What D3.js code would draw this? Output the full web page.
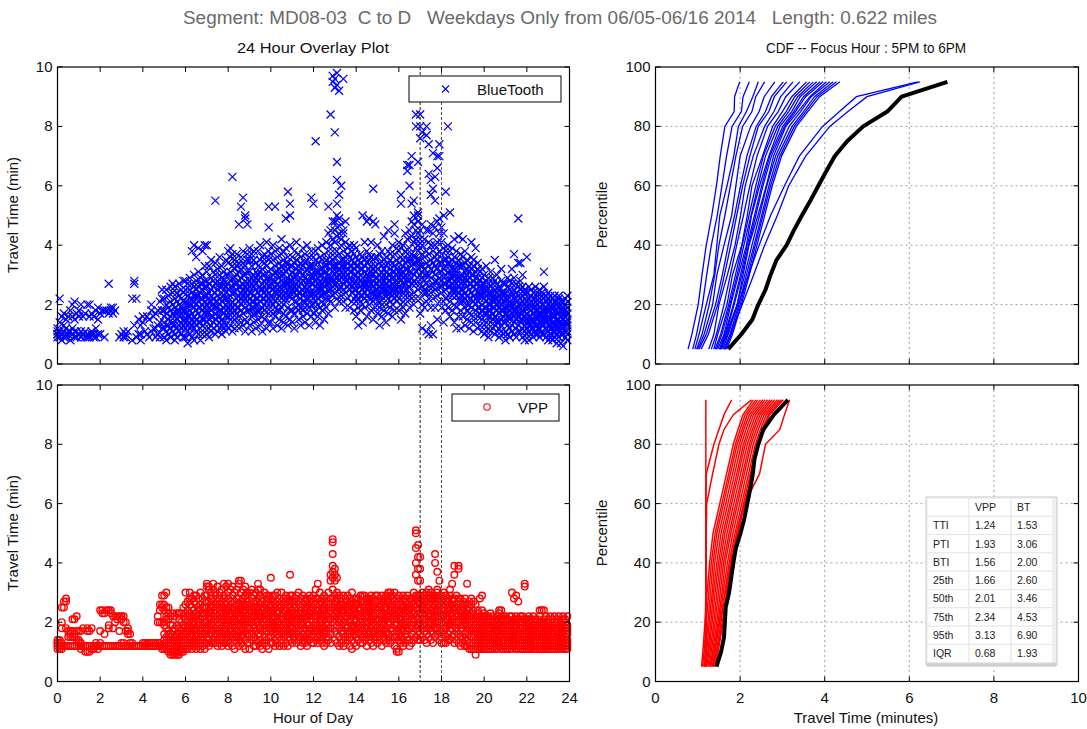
<!DOCTYPE html>
<html><head><meta charset="utf-8">
<script src="https://cdn.jsdelivr.net/npm/d3@7/dist/d3.min.js"></script>
<style>body{margin:0;background:#fff}svg{display:block;font-family:"Liberation Sans",Arial,sans-serif}</style>
</head><body><svg id="c" width="1087" height="729"></svg>
<script>
// ---------------- DATA ----------------
const mainTitle = "Segment: MD08-03  C to D   Weekdays Only from 06/05-06/16 2014   Length: 0.622 miles";
const leftTitle = "24 Hour Overlay Plot";
const rightTitle = "CDF -- Focus Hour : 5PM to 6PM";
const hourTicks = [0,2,4,6,8,10,12,14,16,18,20,22,24];
const travelTicks = [0,2,4,6,8,10];
const cdfTimeTicks = [0,2,4,6,8,10];
const pctTicks = [0,20,40,60,80,100];
const focusHours = [17,18];

// scatter points: one string per hour of day; "|" separates the ten 6-minute slices of the hour;
// each number is a travel time in tenths of a minute
const btPoints = [
"09 10 11 12 10|22 14 09 11|16 10 08|11 09 13 17|10 12 09 15|11 10 16|08 11 18|20 12 10 16|11 09 15 21|09 11 17",
"10 18 16|09 11 20|16 10|09 11 17|20 10 09|16 09 20|10 11 17|10 09 16|09 12 18|10 15 19",
"17 10|18|09 18|18|27 17|18 19|17 19|18||09",
"10|09 11|10 09|11||08 22|13 27 28|09 22|10 15|08 10 13",
"14 16|11|10 16|09 15|11 18 20|12 16|09 12 17|10 13 18|09 14 21|12 18 22 25",
"09 14 18 12 22 16|11 17 08 25 13 20|15 10 19 23 13|12 18 26 09 16 21|14 11 20 17 24 13 27|16 10 22 13 19 08 26|12 18 15 21 09 24 17|20 13 16 11 23 18 27|14 19 10 25 17 22 12|18 13 21 15 24 09 19 28",
"15 09 21 18 12 25 17 28 14|19 11 23 16 07 27 13 20|14 22 18 10 25 16 29 12 20|17 24 13 38 20 09 27 15 22|12 19 26 16 21 08 30 14 23 40|18 23 11 15 28 20 13 25 36|21 14 26 17 10 23 19 31 39|16 22 12 27 19 08 24 14 29|20 25 13 18 30 15 22 10 27 38|17 23 28 12 19 26 15 21 33 40",
"20 14 26 17 31 10 23 18 40 28|15 22 27 12 19 33 24 09 21|18 25 13 29 21 16 35 11 23|22 16 28 19 12 26 31 14 20|17 24 10 30 21 15 27 55 19 34|23 13 19 28 16 25 11 32 21|18 26 14 22 30 12 20 27 16 36|21 15 29 24 10 18 33 26 13|19 27 12 23 17 31 22 14 28|24 16 20 30 13 26 18 35 22 11",
"22 16 30 25 12 34 19 27 21 38|18 26 13 31 23 20 36 15 28 39|24 63 17 29 21 11 33 26 19 37|20 27 15 32 24 18 35 12 29|25 19 30 14 22 37 27 17 33|21 28 16 34 23 12 31 26 19 47|26 18 32 22 14 29 36 24 20 53|23 30 17 27 13 34 21 38 25 56|19 28 24 15 33 22 30 11 26 49 50|27 21 35 18 25 31 14 23 37 47",
"24 18 31 22 13 28 35 20 26 39|21 27 16 33 24 11 29 37 19|26 19 30 23 14 35 21 28 17 38|22 29 17 34 25 12 31 20 27|28 20 33 15 24 38 22 30 18|23 31 18 26 13 35 21 29 25 40|27 16 32 22 36 19 25 11 30|20 28 24 34 15 30 22 37 18|25 33 19 29 12 23 36 27 21 41|29 22 35 17 26 31 14 24 38 46 53",
"26 19 32 23 14 29 37 21 27|22 30 17 35 25 12 28 40 20|28 21 33 16 24 38 53 26 19 31|24 31 18 27 36 13 22 30 25|29 20 34 23 15 39 26 32 18|25 33 19 28 37 22 12 30 24 42|30 23 17 35 26 20 32 14 27 38|21 28 34 24 16 31 39 22 27 49|27 19 32 25 36 13 29 23 34 58|23 30 26 18 33 28 40 15 24 50 54",
"25 31 18 28 22 36 14 27 33|29 21 34 24 17 30 38 26 12|23 32 27 19 35 25 41 21 30|28 20 33 26 15 31 37 24 18|24 31 22 36 29 13 27 34 19|30 25 18 33 23 39 28 21 16|26 34 21 29 14 31 24 37 19|22 28 32 25 17 35 27 20 40|31 24 19 28 36 22 33 13 26|27 33 20 30 24 38 16 29 56 23",
"27 20 33 24 36 17 29 22 54 31|23 31 26 18 35 28 21 75 38 14|29 22 34 25 16 31 39 27 20|25 32 19 28 36 23 30 13 26|30 23 27 35 18 32 25 40 21|26 33 20 29 37 24 31 15 28|31 24 28 19 35 27 33 22 41|27 34 22 30 25 38 17 29 53 44|32 25 29 36 21 40 28 34 45 84|28 35 23 31 42 26 38 48 97 95 33",
"30 24 36 27 41 19 33 45 48 78 96 93 28|26 33 29 38 22 43 31 46 50 68 62 54 98 94|32 25 37 28 44 21 34 49 57 92 30|29 35 23 40 31 26 42 47 60 33|33 27 38 21 30 44 35 45 96 25|28 36 31 24 41 33 19 48 29|34 26 30 37 22 39 28 32|29 33 25 36 19 31 40 27|31 24 35 28 21 38 26 33|27 34 22 30 37 25 32 18 40",
"28 21 33 25 36 16 30 23 39|24 31 19 27 35 22 29 13 33|30 23 26 34 18 37 28 21 32|25 32 20 29 36 23 50 27 14|31 22 27 35 19 33 26 41 24|27 34 23 30 16 38 25 29 48|22 29 35 26 32 20 37 28 49|30 24 33 18 27 36 22 31 41|26 32 21 35 28 15 30 59 24 48|33 25 29 19 36 27 23 31 47",
"27 21 32 25 36 17 29 23 40|23 30 19 34 26 13 28 37 21|29 24 33 20 27 38 31 16 25|25 32 22 28 35 18 30 26 43|31 23 27 36 20 33 14 29 24|26 34 22 30 17 38 28 24 45|30 24 28 35 21 32 19 37 26|23 31 27 20 34 29 16 40 25|29 26 33 22 37 18 31 25 44 47|25 32 21 28 35 23 30 39 27",
"29 22 34 26 38 18 31 24 41|25 32 20 36 28 15 30 57 54 39|31 24 35 21 29 40 27 33 19|27 34 23 30 38 17 32 25 44|32 25 29 37 21 35 28 42 67 65|28 35 23 31 19 39 26 45 60 67|33 27 31 22 37 29 43 48 70 54|30 24 36 28 34 20 41 47 55 50|34 27 31 22 39 45 84 80 42 36|29 35 25 32 40 44 48 51 68 50 38",
"30 22 35 27 39 17 42 45 84 80 76 33|26 33 20 37 29 12 40 47 78 31|32 24 36 19 28 42 30 25|27 34 11 30 38 21 45 77 80 24|33 26 37 22 30 10 45 74 64 41|29 35 24 40 19 32 57 62 47 13|34 27 31 22 38 44 71 59 10 26|30 36 25 33 46 19 63 55 40 28|35 28 41 23 32 48 70 66 15 37|31 38 26 44 21 34 74 70 49 29",
"31 24 37 28 41 19 34 46 26|27 35 21 32 39 14 29 44 50|33 25 30 38 22 58 27 35 18|28 36 23 31 80 19 34 26 40|34 26 30 21 38 51 28 33 16|29 35 23 32 27 39 18 30 25|25 32 28 20 36 14 30 24 42|30 23 27 34 19 31 25 12 38|26 33 21 29 16 35 24 28 43|23 30 27 18 33 25 12 29 37 21",
"28 21 33 25 42 16 30 23 36|24 31 19 27 13 34 22 29 38|26 20 32 15 28 23 35 18 30|22 29 25 17 33 20 27 12 31|27 19 30 24 41 14 32 22 36|23 28 16 33 21 26 11 30 35|25 18 31 22 39 27 14 20 29|21 27 24 16 32 19 29 12 34|24 19 28 13 26 22 31 17 23|20 26 15 29 23 18 32 11 27",
"22 17 27 13 24 19 30 10 25|19 25 14 21 28 11 23 17 33|24 16 20 12 27 22 18 29 09|18 23 14 26 20 31 11 24 16|21 15 27 19 12 24 17 29 22|16 22 13 25 19 28 10 21 35|20 14 24 18 11 27 22 15 30|17 23 12 26 19 14 21 09 25|22 15 20 28 13 18 24 11 32|18 24 14 21 27 16 10 23 19",
"19 14 24 11 21 17 27 08 22|16 22 13 19 26 10 23 17 29|21 15 18 25 12 20 28 09 16|17 23 13 20 27 11 24 19 32|20 14 22 16 37 10 25 18 29|15 21 12 24 18 27 09 22 17|19 13 23 16 49 11 26 20 34|14 20 25 17 11 22 34 15 28|18 12 21 15 26 09 23 17 30|16 22 11 19 25 13 20 08 24",
"17 12 21 15 36 10 19 24 14|14 19 11 22 16 08 20 26 13|18 13 23 10 16 21 15 25 12|15 20 12 17 24 09 19 14 22|19 11 16 22 13 26 18 10 21|13 18 24 15 10 20 16 23 12|17 12 21 14 19 09 25 16 22|14 20 11 17 23 13 18 10 24|18 13 22 15 31 10 20 16 26|12 17 21 14 19 09 23 15 18",
"16 11 20 13 18 08 22 15 24|13 18 10 21 15 09 19 23 12|17 12 22 14 19 08 16 20 11|14 19 11 16 23 09 18 13 21|18 10 15 21 13 17 07 20 12|12 17 22 14 09 19 15 11 23|16 10 20 13 18 07 14 21 11|13 18 06 15 21 10 17 12 19|17 11 14 20 09 16 22 13 18|11 15 19 08 13 21 10 17 14 23"
];

const vppPoints = [
"12 11 13 14 13|12 11 13 14 12|12 11 13 20 18 25|12 25 27|12 28 27 18|12 15 17|12 15 17 16|12 15 17 21|12 15 16 21|12 14 17 22",
"12 13 17 14|12 13 17 11|12 18|12 10|12 10 17 18|12 10 17|12 11 18|12 11|12 13|12 11",
"12 17 24 13|12 23 24|12 16 23|12 24|12 18 24 19|12 24 23|12 18 22|12 22 20|12 22 21|12 17 22",
"12 22 21 13|12 20 22 13|12 20 17|12 18 17 16|12 16 13|12 13|12 12|12|12|12",
"12 13|12 13|12 13|12 13|12 13|12 13|12 13|12 13 22 20|12 20 24 26 13|12 20 26 25 29 11",
"12 29 26 24 20 16 14 19 11|13 30 25 22 18 15 11 21|12 14 17 21 25 10 23 16|10 13 16 19 22 09 12 15|10 11 14 17 23 13 19 09|10 09 12 15 18 22 11 14|09 10 13 16 19 23 12 15|10 12 14 18 21 09 16 23|10 12 15 17 20 23 13 11|11 13 16 19 22 25 10 14 18",
"14 19 12 23 17 26 11 21 16 30|18 13 22 15 27 20 11 24 17|21 15 26 12 19 30 17 23 14 28|16 22 13 25 18 28 11 20 15|20 14 24 17 27 12 22 19 29|15 21 18 26 13 23 16 29 11|22 16 19 28 14 25 12 20 24|17 24 13 21 30 15 26 19 11|19 14 25 18 22 12 28 16 23|23 16 20 27 13 18 25 11 21 29",
"20 15 25 18 29 13 23 32 17 33 27|16 22 27 14 19 31 24 12 21 32|23 18 28 13 21 26 16 30 19 25|19 25 14 22 31 17 27 20 13 33|24 16 21 29 13 26 18 23 15 30|17 22 28 14 25 20 32 16 27 12|21 26 15 19 30 23 13 28 17 24|25 18 22 14 27 20 31 16 23 12|16 23 29 19 13 25 21 17 28 33|22 27 15 20 32 17 24 13 26 19",
"19 24 14 28 21 16 30 12 25 33|23 17 27 13 20 31 18 25 15 22|15 22 26 19 29 12 24 17 32 21|25 18 21 30 14 23 27 16 20 11|20 26 13 23 17 31 19 28 15 24|24 16 28 21 33 14 19 26 34 12 22|17 23 19 30 25 13 27 21 34 15|22 28 15 20 26 12 31 18 24 16|26 19 24 14 29 21 17 32 11 23|18 25 21 30 13 27 16 22 29 20",
"21 16 26 13 23 30 18 25 11 20|17 24 20 28 14 22 31 16 26|25 19 22 15 29 12 24 18 27|20 27 14 23 17 30 21 12 25|16 22 28 19 33 13 25 20 31 24|23 18 26 14 21 29 16 31 12 22|19 25 13 22 28 17 24 11 27|26 15 21 18 30 23 13 20 25|14 22 27 19 24 12 29 17 21 26|24 18 23 15 29 20 26 11 21 28",
"35 20 15 25 18 28 13 23 17 26|22 16 27 19 13 24 29 18 21|17 25 20 14 29 22 12 26 19|24 18 13 21 27 16 30 23 20|19 26 15 23 12 28 20 17 25|14 22 27 18 25 13 30 21 16|26 19 23 15 21 28 17 12 24|20 27 16 24 13 22 18 29 25|15 23 19 28 21 12 26 17 22|36 25 18 22 14 27 20 16 23 29",
"18 24 13 21 27 16 23 19 29|23 17 26 14 20 28 22 15 25|16 25 20 29 13 22 18 27 21|27 19 14 23 17 26 21 30 15|21 15 28 18 24 12 25 19 23|14 22 19 26 16 29 23 20 13|25 18 23 13 21 27 15 24 28|19 26 16 22 28 14 20 12 25|23 14 27 19 25 17 22 29 16|17 24 21 28 15 23 18 26 13",
"22 16 27 19 25 13 23 18 29|17 24 20 31 14 26 22 19 28|25 19 33 15 22 28 17 24 13|20 27 14 23 18 30 21 26 16|15 22 26 19 28 13 24 17 21|24 18 29 21 16 25 12 27 23|19 26 13 22 28 17 24 20 15|27 21 15 25 19 30 14 23 18|18 24 28 34 21 36 16 26 13|25 31 35 37 39 43 47 48 22 28 20",
"34 36 38 21 27 17 25 14 29 23|35 19 24 28 13 22 26 16 30|26 20 15 23 29 18 12 25 21|21 28 17 24 13 27 19 22 26|17 23 26 14 20 29 16 24 12|28 18 22 15 25 19 27 13 21|14 24 19 27 16 22 29 18 25|23 17 28 20 12 26 15 21 24|19 26 14 22 30 17 24 11 27|25 21 16 28 19 23 13 26 18",
"20 15 26 18 23 12 28 21 17|16 24 19 28 14 22 26 18 25|25 18 22 13 27 20 16 24 29|19 27 15 23 17 29 21 13 26|23 14 29 20 25 16 22 18 27|15 22 18 26 12 24 20 28 19|27 17 24 20 14 28 16 22 25|18 25 13 21 27 19 23 15 29|22 16 28 17 25 12 26 20 24|17 23 19 27 14 21 29 16 25",
"21 15 27 18 24 13 29 20 16|16 23 19 28 14 25 21 17 26|24 18 26 12 22 29 16 20 27|19 27 14 23 17 25 21 28 15|25 16 21 29 18 24 13 27 22|14 22 27 19 30 16 23 20 28|26 20 15 24 18 29 22 13 30|18 25 21 28 14 23 17 29 26|22 15 27 19 25 12 30 21 24|10 17 24 20 28 15 22 11 26 19",
"10 18 24 14 21 27 16 23 29|22 15 26 19 28 13 24 17 21|17 25 20 29 14 23 18 27 12|24 19 13 22 27 16 28 20 25|19 26 15 23 17 29 21 14 24|25 14 20 28 18 24 12 27 22|16 23 27 19 25 13 21 28 18|21 28 17 24 14 30 20 26 23|51 50 45 40 36 18 25 29 22 15 28|46 42 38 34 24 19 27 14 21 29 17",
"42 38 34 20 26 16 29 23 14 27 19|24 18 28 21 15 26 30 19 23|19 25 14 22 29 17 27 21 24|27 21 16 24 30 18 25 13 28|22 29 18 26 15 23 28 20 31|17 24 28 20 27 14 22 30 19|26 19 23 29 16 25 21 28 13|43 40 20 27 15 24 29 18 22 26|37 24 18 28 22 30 16 26 20 31|34 29 21 25 17 27 23 19 28 14",
"13 20 26 17 24 29 22 15 27|13 25 19 28 22 16 24 30 18|13 18 23 27 20 15 26 21 29|24 28 19 16 25 21 27 14 22|20 26 23 17 29 14 24 19 31|33 25 18 22 28 15 26 20 23|36 39 21 27 16 24 19 28 13 25|23 18 26 14 22 29 17 25 20|39 38 27 20 24 16 28 13 22|18 24 21 28 15 26 12 23 19",
"24 19 27 15 22 13 25 18 21|20 26 16 23 12 28 19 14 22|33 17 24 21 14 26 19 12 23|25 18 22 13 27 16 20 11 24|28 15 21 26 12 19 23 17 11|27 22 16 13 20 24 11 18 15|09 26 14 19 12 22 17 11 21|20 16 24 13 18 11 21 15 23|28 17 22 14 19 12 16 20 11|29 13 20 15 24 18 11 22 16",
"19 14 22 12 17 21 11 16 23|15 20 13 18 11 22 16 19 14|21 12 17 14 20 11 19 15 22|13 18 21 16 12 19 14 23 11|18 14 20 11 16 22 13 19 15|12 17 15 21 13 19 11 18 14|20 14 18 11 16 22 13 17 21|24 15 21 13 19 12 17 23 14|24 18 12 20 15 11 22 16 19|14 19 13 21 16 11 18 22 12",
"17 12 21 14 19 11 16 22 13|13 19 15 21 11 17 14 20 16|20 14 18 12 16 22 11 19 15|30 16 12 20 14 19 11 17 22|28 13 18 15 21 12 17 14 20|29 19 13 16 22 11 18 14 21|27 15 21 12 17 14 20 11 16|12 18 14 20 16 22 11 19 13|16 21 13 18 11 15 20 14 22|33 32 14 20 12 17 15 21 11 18",
"14 19 12 17 21 11 16 20 13|18 13 21 15 11 19 14 17 22|12 17 14 20 16 11 18 13 21|19 15 12 18 22 14 11 17 16|15 20 13 17 11 19 14 21 12|21 12 16 19 14 11 18 15 20|24 13 18 11 20 15 12 17 22|24 16 20 14 12 19 11 18 15|24 19 12 17 21 14 16 11 20|13 18 15 20 11 17 22 14 12",
"16 12 20 14 18 11 21 13 17|12 17 14 19 11 22 15 18 13|19 13 16 11 21 14 18 12 15|14 20 12 17 15 11 19 22 13|17 11 15 21 13 18 12 16 20|12 18 14 11 20 16 13 22 15|20 13 17 12 15 19 11 18 14|13 19 11 16 22 14 17 12 21|18 14 21 12 17 11 15 20 13|12 16 19 14 11 18 22 13 17"
];

// CDF curves (percentile -> travel time, minutes), one per weekday in the focus hour
const dayPct = [5,10,20,30,40,50,60,70,80,85,90,95];
const btDayCdfs = [
[0.77,0.86,1.01,1.10,1.20,1.33,1.44,1.53,1.64,1.86,1.87,1.99],
[0.88,0.97,1.11,1.21,1.32,1.46,1.57,1.68,1.81,2.03,2.07,2.22],
[0.93,1.03,1.20,1.38,1.45,1.52,1.69,1.85,1.96,2.15,2.30,2.43],
[0.97,1.10,1.27,1.40,1.50,1.64,1.77,1.90,2.06,2.28,2.37,2.58],
[1.00,1.15,1.35,1.45,1.62,1.80,1.90,2.00,2.25,2.45,2.57,2.82],
[1.03,1.20,1.42,1.58,1.72,1.87,2.01,2.16,2.38,2.60,2.74,3.02],
[1.08,1.25,1.47,1.63,1.78,1.92,2.06,2.23,2.43,2.68,2.81,3.10],
[1.26,1.38,1.50,1.70,1.88,2.01,2.12,2.31,2.58,2.80,2.96,3.25],
[1.32,1.44,1.62,1.77,1.92,2.08,2.23,2.40,2.65,2.90,3.08,3.41],
[1.38,1.47,1.69,1.82,2.04,2.17,2.28,2.53,2.77,3.00,3.22,3.57],
[1.41,1.54,1.73,1.89,2.05,2.21,2.37,2.55,2.83,3.09,3.29,3.65],
[1.44,1.57,1.76,1.93,2.09,2.26,2.42,2.60,2.89,3.15,3.36,3.73],
[1.47,1.62,1.78,1.96,2.15,2.27,2.46,2.68,2.94,3.22,3.42,3.81],
[1.51,1.64,1.84,2.01,2.17,2.34,2.51,2.70,3.01,3.27,3.50,3.89],
[1.53,1.66,1.86,2.04,2.20,2.37,2.54,2.74,3.05,3.31,3.55,3.96],
[1.56,1.67,1.93,2.07,2.21,2.42,2.62,2.79,3.08,3.37,3.65,4.04],
[1.59,1.72,1.93,2.11,2.28,2.46,2.63,2.84,3.16,3.43,3.68,4.12],
[1.63,1.76,1.97,2.15,2.33,2.51,2.68,2.89,3.23,3.50,3.76,4.20],
[1.65,1.79,2.00,2.19,2.36,2.54,2.72,2.94,3.28,3.55,3.82,4.28],
[1.68,1.82,2.03,2.22,2.40,2.58,2.76,2.98,3.33,3.60,3.88,4.36],
[1.55,1.70,1.95,2.20,2.45,2.72,3.05,3.40,3.95,4.35,4.75,6.20],
[1.62,1.78,2.05,2.32,2.58,2.88,3.15,3.55,4.12,4.55,5.00,6.25]
];
const vppDayCdfs = [
[1.17,1.18,1.18,1.19,1.19,1.19,1.19,1.19,1.19,1.19,1.19,1.19],
[1.19,1.19,1.19,1.19,1.19,1.19,1.19,1.20,1.38,1.50,1.62,1.80],
[1.19,1.19,1.19,1.19,1.20,1.20,1.21,1.35,1.50,1.62,1.84,2.27],
[1.09,1.12,1.17,1.22,1.28,1.36,1.52,1.68,1.84,1.95,2.07,2.31],
[1.11,1.15,1.20,1.26,1.32,1.41,1.57,1.73,1.89,2.00,2.12,2.37],
[1.14,1.18,1.24,1.30,1.36,1.45,1.61,1.77,1.93,2.05,2.17,2.42],
[1.16,1.21,1.27,1.34,1.40,1.50,1.66,1.82,1.98,2.09,2.22,2.48],
[1.19,1.24,1.31,1.37,1.45,1.55,1.71,1.87,2.03,2.14,2.27,2.54],
[1.21,1.26,1.34,1.41,1.49,1.60,1.76,1.92,2.08,2.19,2.32,2.59],
[1.24,1.29,1.38,1.45,1.53,1.64,1.80,1.96,2.12,2.24,2.37,2.65],
[1.26,1.32,1.41,1.49,1.57,1.69,1.85,2.01,2.17,2.29,2.42,2.71],
[1.29,1.35,1.45,1.53,1.61,1.74,1.90,2.06,2.22,2.33,2.47,2.76],
[1.31,1.38,1.48,1.57,1.65,1.78,1.94,2.10,2.26,2.38,2.52,2.82],
[1.34,1.41,1.51,1.60,1.70,1.83,1.99,2.15,2.31,2.43,2.57,2.88],
[1.36,1.44,1.55,1.64,1.74,1.88,2.04,2.20,2.36,2.48,2.62,2.93],
[1.38,1.46,1.58,1.68,1.77,1.92,2.08,2.24,2.40,2.52,2.67,2.98],
[1.40,1.48,1.60,1.70,1.80,1.95,2.11,2.27,2.43,2.55,2.70,3.02],
[1.30,1.38,1.52,1.65,1.78,1.92,2.10,2.46,2.60,2.94,3.05,3.17]
];
const allPct = [5,10,15,20,25,30,35,40,45,50,55,60,65,70,75,80,85,90,95];
const btAllCdf = [1.72,2.03,2.29,2.43,2.60,2.72,2.86,3.10,3.27,3.46,3.66,3.85,4.04,4.24,4.53,4.91,5.48,5.82,6.90];
const vppAllCdf = [1.44,1.55,1.62,1.64,1.66,1.74,1.79,1.84,1.90,2.01,2.10,2.17,2.24,2.30,2.34,2.43,2.55,2.80,3.13];

// statistics table
const statCols = ["", "VPP", "BT"];
const statNames = ["TTI","PTI","BTI","25th","50th","75th","95th","IQR"];
const statVpp = ["1.24","1.93","1.56","1.66","2.01","2.34","3.13","0.68"];
const statBt  = ["1.53","3.06","2.00","2.60","3.46","4.53","6.90","1.93"];

// ---------------- DRAWING ----------------
const svg = d3.select("#c");
const FS = 15;

function parsePts(rows){
  const out=[];
  rows.forEach((s,h)=>{
    s.split("|").forEach((grp,d)=>{
      grp.trim().split(/\s+/).filter(v=>v.length).forEach(v=>out.push({hour:h + d/10, tt:(+v)/10}));
    });
  });
  return out;
}

function grid(g, x, y, xt, yt){
  const [x0,x1]=x.range(), [y1,y0]=y.range();
  xt.slice(1,-1).forEach(v=>g.append("line").attr("x1",x(v)).attr("x2",x(v)).attr("y1",y0).attr("y2",y1)
    .attr("stroke","#8a8a8a").attr("stroke-width",0.8).attr("stroke-dasharray","2,3"));
  yt.slice(1,-1).forEach(v=>g.append("line").attr("y1",y(v)).attr("y2",y(v)).attr("x1",x0).attr("x2",x1)
    .attr("stroke","#8a8a8a").attr("stroke-width",0.8).attr("stroke-dasharray","2,3"));
}
function axesBox(g, x, y, xt, yt, showX){
  const [x0,x1]=x.range(), [y1,y0]=y.range();
  g.append("rect").attr("x",x0).attr("y",y0).attr("width",x1-x0).attr("height",y1-y0)
    .attr("fill","none").attr("stroke","#000").attr("stroke-width",1.2);
  xt.forEach(v=>{
    g.append("line").attr("x1",x(v)).attr("x2",x(v)).attr("y1",y1).attr("y2",y1-5).attr("stroke","#000");
    g.append("line").attr("x1",x(v)).attr("x2",x(v)).attr("y1",y0).attr("y2",y0+5).attr("stroke","#000");
    if(showX) g.append("text").attr("x",x(v)).attr("y",y1+21).attr("text-anchor","middle")
      .attr("font-size",FS).attr("fill","#111").text(v);
  });
  yt.forEach(v=>{
    g.append("line").attr("x1",x0).attr("x2",x0+5).attr("y1",y(v)).attr("y2",y(v)).attr("stroke","#000");
    g.append("line").attr("x1",x1).attr("x2",x1-5).attr("y1",y(v)).attr("y2",y(v)).attr("stroke","#000");
    g.append("text").attr("x",x0-5).attr("y",y(v)+5).attr("text-anchor","end")
      .attr("font-size",FS).attr("fill","#111").text(v);
  });
}
function ylabel(txt, cx, cy){
  svg.append("text").attr("transform",`translate(${cx},${cy}) rotate(-90)`).attr("text-anchor","middle")
    .attr("font-size",FS).attr("fill","#111").text(txt);
}

// titles
svg.append("text").attr("x",560).attr("y",24).attr("text-anchor","middle").attr("font-size",18)
  .attr("fill","#6a6a6a").attr("textLength",754).attr("lengthAdjust","spacingAndGlyphs")
  .style("white-space","pre").text(mainTitle);
svg.append("text").attr("x",313).attr("y",53).attr("text-anchor","middle").attr("font-size",15).attr("fill","#111")
  .attr("textLength",152).attr("lengthAdjust","spacingAndGlyphs").text(leftTitle);
svg.append("text").attr("x",866).attr("y",53).attr("text-anchor","middle").attr("font-size",15).attr("fill","#111")
  .attr("textLength",200).attr("lengthAdjust","spacingAndGlyphs").text(rightTitle);

// scales
const xHour = d3.scaleLinear().domain([0,24]).range([57.5,569.5]);
const yTop = d3.scaleLinear().domain([0,10]).range([364,67]);
const yBot = d3.scaleLinear().domain([0,10]).range([681.5,385]);
const xCdf = d3.scaleLinear().domain([0,10]).range([655.5,1078.5]);
const pTop = d3.scaleLinear().domain([0,100]).range([364,67]);
const pBot = d3.scaleLinear().domain([0,100]).range([681.5,385]);

const bt = parsePts(btPoints), vpp = parsePts(vppPoints);

// --- top-left BT scatter
const gTL = svg.append("g");
gTL.selectAll("path.bt").data(bt).join("path").attr("class","bt")
  .attr("d",d=>{const x=xHour(d.hour), y=yTop(d.tt), s=4; return `M${x-s},${y-s}L${x+s},${y+s}M${x-s},${y+s}L${x+s},${y-s}`;})
  .attr("stroke","#0000ff").attr("stroke-width",1.25).attr("fill","none");
focusHours.forEach((h,i)=>gTL.append("line").attr("x1",xHour(h)).attr("x2",xHour(h)).attr("y1",67).attr("y2",364)
  .attr("stroke",i?"#555":"#222").attr("stroke-width",1).attr("stroke-dasharray","3,2"));
axesBox(gTL,xHour,yTop,hourTicks,travelTicks,false);
gTL.append("rect").attr("x",409).attr("y",76).attr("width",152).attr("height",26).attr("fill","#fff").attr("stroke","#000");
gTL.append("path").attr("d","M442,85.5L449,92.5M442,92.5L449,85.5").attr("stroke","#0000ff").attr("stroke-width",1.1);
gTL.append("text").attr("x",477).attr("y",94.5).attr("font-size",FS).attr("fill","#111").text("BlueTooth");
ylabel("Travel Time (min)",18,215);

// --- bottom-left VPP scatter
const gBL = svg.append("g");
gBL.selectAll("circle.vpp").data(vpp).join("circle").attr("class","vpp")
  .attr("cx",d=>xHour(d.hour)).attr("cy",d=>yBot(d.tt)).attr("r",3.3)
  .attr("stroke","#ff0000").attr("stroke-width",1.4).attr("fill","none");
focusHours.forEach((h,i)=>gBL.append("line").attr("x1",xHour(h)).attr("x2",xHour(h)).attr("y1",385).attr("y2",681.5)
  .attr("stroke",i?"#555":"#222").attr("stroke-width",1).attr("stroke-dasharray","3,2"));
axesBox(gBL,xHour,yBot,hourTicks,travelTicks,true);
gBL.append("rect").attr("x",452).attr("y",394).attr("width",107).attr("height",27).attr("fill","#fff").attr("stroke","#000");
gBL.append("circle").attr("cx",487).attr("cy",407).attr("r",3.2).attr("stroke","#ff0000").attr("stroke-width",1.1).attr("fill","none");
gBL.append("text").attr("x",518).attr("y",413).attr("font-size",FS).attr("fill","#111").text("VPP");
ylabel("Travel Time (min)",18,533);
svg.append("text").attr("x",313).attr("y",723).attr("text-anchor","middle").attr("font-size",FS).attr("fill","#111").text("Hour of Day");

// --- top-right CDF BT
const gTR = svg.append("g");
grid(gTR,xCdf,pTop,cdfTimeTicks,pctTicks);
const lineTop = d3.line().x(d=>xCdf(d[1])).y(d=>pTop(d[0]));
gTR.selectAll("path.bd").data(btDayCdfs).join("path").attr("class","bd")
  .attr("d",v=>lineTop(v.map((t,i)=>[dayPct[i],t]))).attr("fill","none").attr("stroke","#0000ff").attr("stroke-width",1.3);
gTR.append("path").attr("d",lineTop(btAllCdf.map((t,i)=>[allPct[i],t]))).attr("fill","none")
  .attr("stroke","#000").attr("stroke-width",4).attr("stroke-linejoin","round");
axesBox(gTR,xCdf,pTop,cdfTimeTicks,pctTicks,false);
ylabel("Percentile",607,215);

// --- bottom-right CDF VPP
const gBR = svg.append("g");
grid(gBR,xCdf,pBot,cdfTimeTicks,pctTicks);
const lineBot = d3.line().x(d=>xCdf(d[1])).y(d=>pBot(d[0]));
gBR.selectAll("path.vd").data(vppDayCdfs).join("path").attr("class","vd")
  .attr("d",v=>lineBot(v.map((t,i)=>[dayPct[i],t]))).attr("fill","none").attr("stroke","#ff0000").attr("stroke-width",1.5);
gBR.append("path").attr("d",lineBot(vppAllCdf.map((t,i)=>[allPct[i],t]))).attr("fill","none")
  .attr("stroke","#000").attr("stroke-width",4).attr("stroke-linejoin","round");
axesBox(gBR,xCdf,pBot,cdfTimeTicks,pctTicks,true);
ylabel("Percentile",607,533);
svg.append("text").attr("x",866).attr("y",723).attr("text-anchor","middle").attr("font-size",FS).attr("fill","#111").text("Travel Time (minutes)");

// --- stats table
const tb = svg.append("g");
const tx0=926, ty0=497, colW=42, rowH=18.3;
tb.append("rect").attr("x",tx0).attr("y",ty0).attr("width",131).attr("height",168).attr("fill","#f0f0f0").attr("stroke","#c8c8c8");
tb.append("rect").attr("x",tx0+1).attr("y",ty0+9*rowH+1).attr("width",129).attr("height",4).attr("fill","#d0d0d0");
const rows = [statCols].concat(statNames.map((n,i)=>[n,statVpp[i],statBt[i]]));
rows.forEach((r,ri)=>{
  r.forEach((c,ci)=>{
    tb.append("rect").attr("x",tx0+1+ci*colW).attr("y",ty0+1+ri*rowH).attr("width",colW).attr("height",rowH)
      .attr("fill","#fff").attr("stroke","#e6e6e6").attr("stroke-width",1);
    tb.append("text").attr("x",tx0+7+ci*colW).attr("y",ty0+1+ri*rowH+rowH/2+3.8)
      .attr("font-size",10.5).attr("fill","#222").text(c);
  });
});
</script></body></html>
